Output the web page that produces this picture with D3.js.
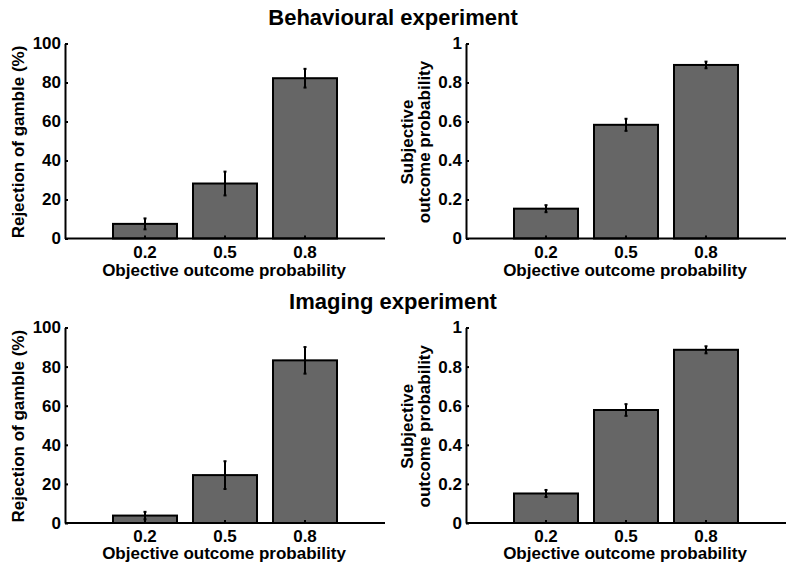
<!doctype html>
<html lang="en">
<head>
<meta charset="utf-8">
<title>Behavioural and imaging experiment</title>
<script src="https://d3js.org/d3.v7.min.js"></script>
<style>
  body { margin: 0; background: #fff; }
  svg text { font-family: "Liberation Sans", Arial, sans-serif; font-weight: bold; fill: #000; }
  .axis text { font-size: 17px; }
  .axis line, .axis path { stroke: #000; stroke-width: 2; }
</style>
</head>
<body>
<svg id="chart" width="800" height="570"></svg>
<script>
// data
var categories = ["0.2", "0.5", "0.8"];

var behavRejection = [7.5, 28.2, 82.2];
var behavRejectionErr = [2.8, 6.1, 4.8];
var behavSubjective = [0.153, 0.583, 0.89];
var behavSubjectiveErr = [0.018, 0.031, 0.017];

var imagingRejection = [3.8, 24.5, 83.2];
var imagingRejectionErr = [1.9, 7.1, 6.8];
var imagingSubjective = [0.151, 0.578, 0.886];
var imagingSubjectiveErr = [0.018, 0.03, 0.018];

var rejectionTicks = [0, 20, 40, 60, 80, 100];
var subjectiveTicks = [0, 0.2, 0.4, 0.6, 0.8, 1];

var svg = d3.select("#chart");

// row titles
svg.append("text").attr("x", 393).attr("y", 25).attr("text-anchor", "middle")
  .style("font-size", "22px").text("Behavioural experiment");
svg.append("text").attr("x", 393).attr("y", 309).attr("text-anchor", "middle")
  .style("font-size", "22px").text("Imaging experiment");

var panels = [
  {x0: 65, y0: 238.5, y1: 43.5, values: behavRejection, err: behavRejectionErr,
   max: 100, ticks: rejectionTicks, ylabel: ["Rejection of gamble (%)"], tickOff: 19.5, labOff: 37},
  {x0: 466, y0: 238.5, y1: 43.5, values: behavSubjective, err: behavSubjectiveErr,
   max: 1, ticks: subjectiveTicks, ylabel: ["Subjective", "outcome probability"], tickOff: 19.5, labOff: 37},
  {x0: 65, y0: 523, y1: 327.5, values: imagingRejection, err: imagingRejectionErr,
   max: 100, ticks: rejectionTicks, ylabel: ["Rejection of gamble (%)"], tickOff: 18.5, labOff: 36},
  {x0: 466, y0: 523, y1: 327.5, values: imagingSubjective, err: imagingSubjectiveErr,
   max: 1, ticks: subjectiveTicks, ylabel: ["Subjective", "outcome probability"], tickOff: 18.5, labOff: 36}
];

panels.forEach(function(p) {
  var width = 320;
  var x = d3.scaleBand().domain(categories)
    .range([p.x0 + 40, p.x0 + width - 40])
    .paddingInner(0.2).paddingOuter(0.1);
  var y = d3.scaleLinear().domain([0, p.max]).range([p.y0, p.y1]);

  var g = svg.append("g");

  // bars
  g.selectAll(".bar")
    .data(p.values)
    .enter().append("rect")
    .attr("class", "bar")
    .attr("x", function(d, i) { return x(categories[i]); })
    .attr("y", function(d) { return y(d); })
    .attr("width", x.bandwidth())
    .attr("height", function(d) { return y(0) - y(d); })
    .attr("fill", "#666666")
    .attr("stroke", "#000")
    .attr("stroke-width", 2);

  // error bars
  var cx = function(i) { return x(categories[i]) + x.bandwidth() / 2; };
  g.selectAll(".err")
    .data(p.values)
    .enter().append("line")
    .attr("x1", function(d, i) { return cx(i); })
    .attr("x2", function(d, i) { return cx(i); })
    .attr("y1", function(d, i) { return y(d - p.err[i]); })
    .attr("y2", function(d, i) { return y(d + p.err[i]); })
    .attr("stroke", "#000").attr("stroke-width", 2);
  [-1, 1].forEach(function(s) {
    g.selectAll(".cap" + s)
      .data(p.values)
      .enter().append("line")
      .attr("x1", function(d, i) { return cx(i) - 1.5; })
      .attr("x2", function(d, i) { return cx(i) + 1.5; })
      .attr("y1", function(d, i) { return y(d + s * p.err[i]); })
      .attr("y2", function(d, i) { return y(d + s * p.err[i]); })
      .attr("stroke", "#000").attr("stroke-width", 2);
  });

  // y axis
  g.append("g")
    .attr("class", "axis")
    .attr("transform", "translate(" + p.x0 + ",0)")
    .call(d3.axisLeft(y).tickValues(p.ticks).tickSizeInner(-3).tickSizeOuter(0)
      .tickPadding(4).tickFormat(d3.format("")));

  // x axis
  var xa = g.append("g")
    .attr("class", "axis")
    .attr("transform", "translate(0," + p.y0 + ")")
    .call(d3.axisBottom(x).tickSizeInner(-3).tickSizeOuter(0).tickPadding(6));
  xa.select(".domain").remove();
  xa.selectAll(".tick text").attr("y", p.tickOff).attr("dy", null);
  xa.append("line").attr("x1", p.x0).attr("x2", p.x0 + width)
    .attr("y1", 0).attr("y2", 0);

  g.append("text")
    .attr("x", p.x0 + width / 2 - 1)
    .attr("y", p.y0 + p.labOff)
    .attr("text-anchor", "middle")
    .style("font-size", "17px")
    .text("Objective outcome probability");

  // y label
  var yc = (p.y0 + p.y1) / 2 + 1;
  var n = p.ylabel.length;
  p.ylabel.forEach(function(t, k) {
    var bx = n === 1 ? p.x0 - 41 : p.x0 - 53 + k * 17;
    g.append("text")
      .attr("transform", "translate(" + bx + "," + yc + ") rotate(-90)")
      .attr("text-anchor", "middle")
      .style("font-size", "17px")
      .text(t);
  });
});
</script>
</body>
</html>
